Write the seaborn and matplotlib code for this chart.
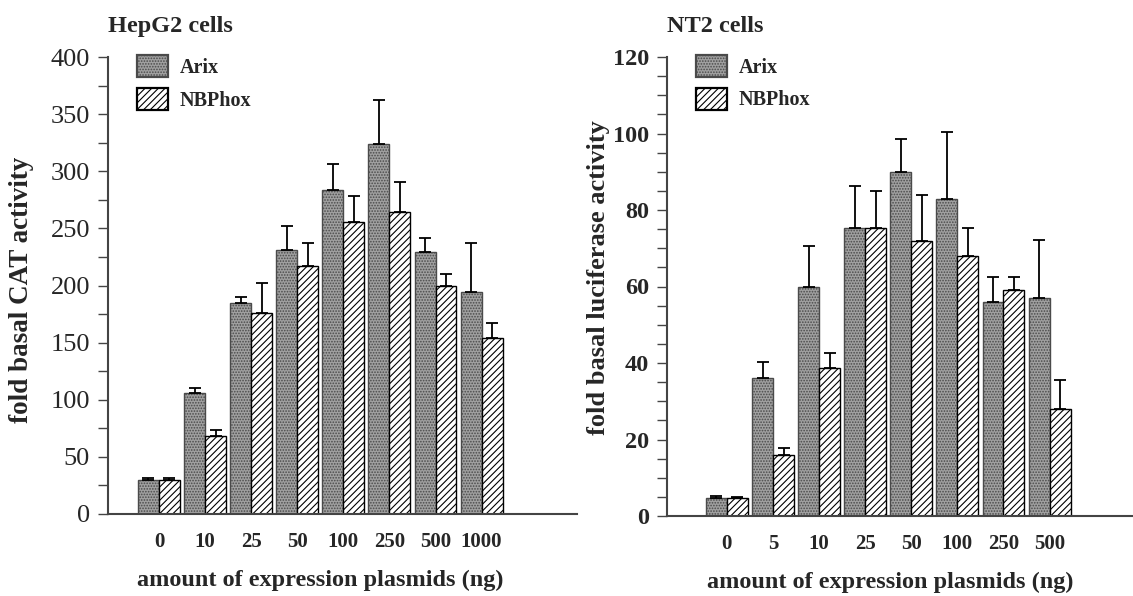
import matplotlib
matplotlib.use("Agg")
import matplotlib.pyplot as plt
import seaborn as sns
import pandas as pd
import numpy as np

# ---- data ----
hep_amounts = ["0", "10", "25", "50", "100", "250", "500", "1000"]
hep_arix = [30, 106, 185, 231, 284, 324, 229, 194]
hep_arix_err = [1.5, 4, 5, 21, 22, 38, 13, 43]
hep_nbphox = [30, 68, 176, 217, 256, 264, 200, 154]
hep_nbphox_err = [1.5, 5.5, 26, 20, 22, 27, 10, 13]

nt2_amounts = ["0", "5", "10", "25", "50", "100", "250", "500"]
nt2_arix = [4.8, 36, 60, 75.3, 90, 83, 56, 57]
nt2_arix_err = [0.4, 4.3, 10.5, 11.1, 8.6, 17.3, 6.5, 15.2]
nt2_nbphox = [4.7, 16, 38.6, 75.3, 72, 68, 59, 28]
nt2_nbphox_err = [0.3, 1.8, 3.9, 9.6, 12, 7.3, 3.5, 7.5]

constructs = ["Arix", "NBPhox"]

sns.set_style("ticks")
plt.rcParams["font.family"] = ["Liberation Serif", "DejaVu Serif"]
plt.rcParams["hatch.linewidth"] = 0.8

fig = plt.figure(figsize=(11.33, 5.96), dpi=100)
W, H = 1133, 596


def make_ax(x0, x1, ytop, ybot):
    return fig.add_axes([x0 / W, (H - ybot) / H, (x1 - x0) / W, (ybot - ytop) / H])


def draw(ax, amounts, arix, arix_err, nb, nb_err, ylim, major, minor, xlim,
         title, ylabel, xlabel_x, bold_ticks, ytick_size, ylabel_size):
    df = pd.DataFrame({
        "amount": amounts * 2,
        "construct": ["Arix"] * len(amounts) + ["NBPhox"] * len(amounts),
        "value": list(arix) + list(nb),
    })
    sns.barplot(data=df, x="amount", y="value", hue="construct",
                order=amounts, hue_order=constructs,
                palette={"Arix": "#a0a0a0", "NBPhox": "white"},
                width=0.91, gap=0, errorbar=None, ax=ax,
                edgecolor="black", linewidth=1.0)
    styles = [("#a0a0a0", "#4a4a4a", "......"), ("white", "black", "/////")]
    for cont, (fc, ec, hatch), vals, errs in zip(ax.containers, styles,
                                                   [arix, nb], [arix_err, nb_err]):
        xs = []
        for p in cont:
            p.set_facecolor(fc)
            p.set_edgecolor(ec)
            p.set_hatch(hatch)
            xs.append(p.get_x() + p.get_width() / 2)
        ax.errorbar(xs, vals, yerr=[np.zeros(len(errs)), errs], fmt="none",
                    ecolor="black", elinewidth=1.3, capsize=4.5, capthick=1.3,
                    zorder=1)
    # legend
    leg = ax.legend(handles=[ax.containers[0][0], ax.containers[1][0]],
                    labels=constructs, loc="upper left",
                    bbox_to_anchor=(0.045, 1.022), frameon=False,
                    prop={"family": "Liberation Serif", "weight": "bold", "size": 14.5},
                    handlelength=1.55, handleheight=1.3, labelspacing=0.5,
                    handletextpad=0.55, borderaxespad=0)
    for h in leg.legend_handles:
        h.set_linewidth(1.6)
    ax.set_ylim(*ylim)
    ax.set_xlim(*xlim)
    ax.set_yticks(major)
    ax.set_yticks(minor, minor=True)
    ax.tick_params(axis="y", which="both", direction="out", length=7, width=1.0,
                   labelsize=ytick_size, pad=6, color="#444444")
    ax.tick_params(axis="x", length=0, labelsize=15, pad=13)
    for lab in ax.get_xticklabels():
        lab.set_fontweight("bold")
    if bold_ticks:
        for lab in ax.get_yticklabels():
            lab.set_fontweight("bold")
    sns.despine(ax=ax)
    for s in ["left", "bottom"]:
        ax.spines[s].set_linewidth(1.5)
        ax.spines[s].set_color("#444444")
    ax.set_xlabel("amount of expression plasmids (ng)", fontsize=17.5,
                  fontweight="bold")
    ax.xaxis.set_label_coords(xlabel_x, -0.122)
    ax.set_ylabel(ylabel, fontsize=ylabel_size, fontweight="bold")
    ax.text(0.0, 1.055, title, transform=ax.transAxes, fontsize=17.5,
            fontweight="bold", ha="left", va="baseline")


ax1 = make_ax(108, 577, 57, 514)
draw(ax1, hep_amounts, hep_arix, hep_arix_err, hep_nbphox, hep_nbphox_err,
     (0, 400), np.arange(0, 401, 50), np.arange(0, 401, 25),
     (-1.106, 9.07), "HepG2 cells", "fold basal CAT activity", 0.453, False, 19, 19.5)
ax1.yaxis.set_label_coords(-0.158, 0.49)

ax2 = make_ax(667, 1133, 57, 516)
draw(ax2, nt2_amounts, nt2_arix, nt2_arix_err, nt2_nbphox, nt2_nbphox_err,
     (0, 120), np.arange(0, 121, 20), np.arange(0, 121, 5),
     (-1.30, 8.81), "NT2 cells", "fold basal luciferase activity", 0.48, True, 17.5, 19)
ax2.yaxis.set_label_coords(-0.122, 0.52)

fig.savefig("out.png", dpi=100, facecolor="white")
